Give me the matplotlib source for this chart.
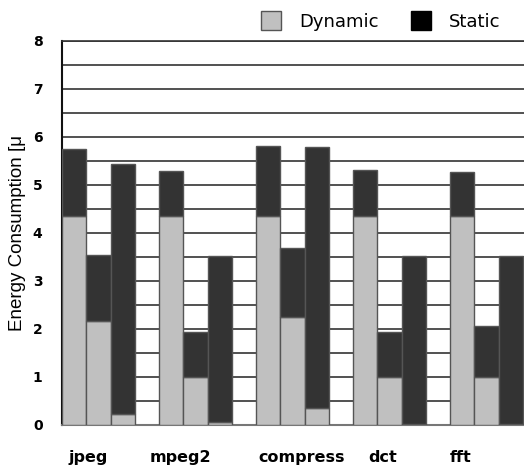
import numpy as np
import matplotlib
matplotlib.use('Agg')
import matplotlib.pyplot as plt
from matplotlib.patches import Patch

BENCHMARKS = ['jpeg', 'mpeg2', 'compress', 'dct', 'fft']
# three configurations per benchmark, values in the unit of the y axis
DYNAMIC = [
    [4.35, 2.16, 0.22],
    [4.35, 1.00, 0.06],
    [4.35, 2.23, 0.35],
    [4.35, 1.00, 0.01],
    [4.35, 1.00, 0.02],
]
TOTAL = [
    [5.73, 3.53, 5.43],
    [5.28, 1.93, 3.51],
    [5.80, 3.67, 5.78],
    [5.30, 1.93, 3.51],
    [5.27, 2.05, 3.50],
]
LABEL_POS = [1.07, 4.87, 9.9, 13.24, 16.45]
Y_TICKS = [0, 1, 2, 3, 4, 5, 6, 7, 8]

DYN_COLOR = '#c0c0c0'
STA_COLOR = '#333333'
EDGE = '#555555'

plt.rcParams['font.family'] = ['DejaVu Sans']

fig = plt.figure(figsize=(5.24, 4.65), dpi=100)
ax = fig.add_axes([62 / 524, 40.5 / 465, 1 - 62 / 524, 384 / 465])

dyn = np.array(DYNAMIC)
tot = np.array(TOTAL)
sta = tot - dyn
n_groups, n_cfg = dyn.shape
x = np.array([[g * 4 + i + 0.5 for i in range(n_cfg)] for g in range(n_groups)]).ravel()

ax.bar(x, dyn.ravel(), width=1.0, color=DYN_COLOR, edgecolor=EDGE, linewidth=1.0, zorder=3)
ax.bar(x, sta.ravel(), width=1.0, bottom=dyn.ravel(), color=STA_COLOR, edgecolor=EDGE,
       linewidth=1.0, zorder=3)

ax.set_xlim(0, 19.05)
ax.set_ylim(0, 8)
ax.set_yticks(Y_TICKS)
ax.set_yticklabels([str(v) for v in Y_TICKS], fontsize=10, fontweight='bold',
                   family=['Liberation Sans Narrow', 'DejaVu Sans'])
ax.set_yticks(np.arange(0, 8.01, 0.5), minor=True)
ax.grid(axis='y', which='both', color='#333333', linewidth=1.2, zorder=0)
ax.tick_params(axis='y', which='both', length=0, pad=14)

ax.set_xticks(LABEL_POS)
ax.set_xticklabels(BENCHMARKS, fontsize=11.5, fontweight='semibold')
ax.tick_params(axis='x', length=0, pad=18)

ax.spines['right'].set_visible(False)
ax.spines['left'].set_color('#111111')
ax.spines['left'].set_linewidth(1.5)
ax.spines['bottom'].set_color('#777777')
ax.spines['bottom'].set_linewidth(1.5)
ax.spines['top'].set_color('#333333')
ax.spines['top'].set_linewidth(1.2)

fig.text(18 / 524, 1 - 233 / 465, 'Energy Consumption [\u03bc', rotation=90,
         ha='center', va='center', fontsize=13.5, family=['Liberation Sans', 'DejaVu Sans'])

handles = [
    Patch(facecolor=DYN_COLOR, edgecolor=EDGE, label='Dynamic'),
    Patch(facecolor='black', edgecolor='black', label='Static'),
]
fig.legend(handles=handles, loc='center', bbox_to_anchor=(381 / 524, 1 - 21 / 465), ncol=2,
           frameon=False, fontsize=13, handlelength=1.1, handleheight=1.2,
           handletextpad=1.0, columnspacing=1.8)

fig.savefig('out.png', dpi=100)
